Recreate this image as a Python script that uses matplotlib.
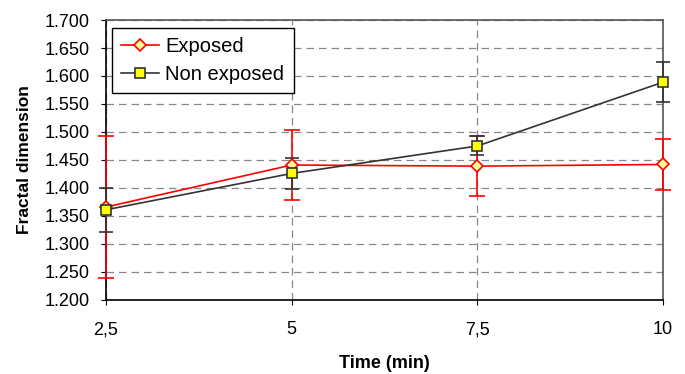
import matplotlib
matplotlib.use('Agg')
import matplotlib.pyplot as plt
import numpy as np

plt.rcParams['font.family'] = ['Liberation Sans', 'DejaVu Sans']
plt.rcParams['font.size'] = 13

# Data
times = ['2,5', '5', '7,5', '10']
exposed = [1.366, 1.441, 1.439, 1.442]
exposed_err = [0.127, 0.063, 0.054, 0.046]
non_exposed = [1.361, 1.426, 1.475, 1.589]
non_exposed_err = [0.039, 0.028, 0.017, 0.036]

fig = plt.figure(figsize=(6.85, 3.74), dpi=100)
ax = fig.add_axes([0.1547, 0.198, 0.8133, 0.7485])

x = np.arange(len(times))
yticks = np.arange(1.2, 1.7001, 0.05)

# grid
ax.set_yticks(yticks)
ax.yaxis.grid(True, linestyle=(0, (6, 4)), color='#888888', linewidth=0.9)
ax.set_xticks(x)
ax.xaxis.grid(True, linestyle=(0, (6, 4)), color='#888888', linewidth=0.9)
ax.set_axisbelow(True)

# error bars
ax.errorbar(x, exposed, yerr=exposed_err, fmt='none', ecolor='#ff0000',
            capsize=6, capthick=1.2, elinewidth=1.2, clip_on=False, zorder=3)
ax.errorbar(x, non_exposed, yerr=non_exposed_err, fmt='none', ecolor='#333333',
            capsize=5, capthick=1.2, elinewidth=1.2, clip_on=False, zorder=3)

# series
ax.plot(x, exposed, color='#ff0000', lw=1.2, marker='D', markersize=6.5,
        markerfacecolor='#ffff99', markeredgecolor='#ff0000',
        markeredgewidth=1.2, label='Exposed', clip_on=False, zorder=4)
ax.plot(x, non_exposed, color='#333333', lw=1.2, marker='s', markersize=7,
        markerfacecolor='#ffff00', markeredgecolor='#333333',
        markeredgewidth=1.2, label='Non exposed', clip_on=False, zorder=5)

ax.set_xlim(0, 3)
ax.set_ylim(1.2, 1.7)
ax.set_xticklabels(times)
ax.set_yticklabels([f'{v:.3f}' for v in yticks])

for side in ['left', 'bottom']:
    ax.spines[side].set_color('black')
    ax.spines[side].set_linewidth(1.2)
for side in ['top', 'right']:
    ax.spines[side].set_color('#555555')
    ax.spines[side].set_linewidth(1.2)

ax.tick_params(axis='both', direction='out', length=3.5, width=0.8)
ax.tick_params(axis='y', pad=8)
ax.tick_params(axis='x', pad=12)

ax.set_xlabel('Time (min)', fontweight='bold', fontsize=13, labelpad=12)
ax.set_ylabel('Fractal dimension', fontweight='bold', fontsize=12.5, labelpad=9)

leg = ax.legend(loc='upper left', bbox_to_anchor=(0.011, 0.971), frameon=True,
                fancybox=False, edgecolor='black', framealpha=1,
                fontsize=14.5, handlelength=1.9, borderpad=0.45,
                labelspacing=0.45, handletextpad=0.3, borderaxespad=0)
leg.get_frame().set_linewidth(1.0)

fig.savefig('out.png', dpi=100, facecolor='white')
